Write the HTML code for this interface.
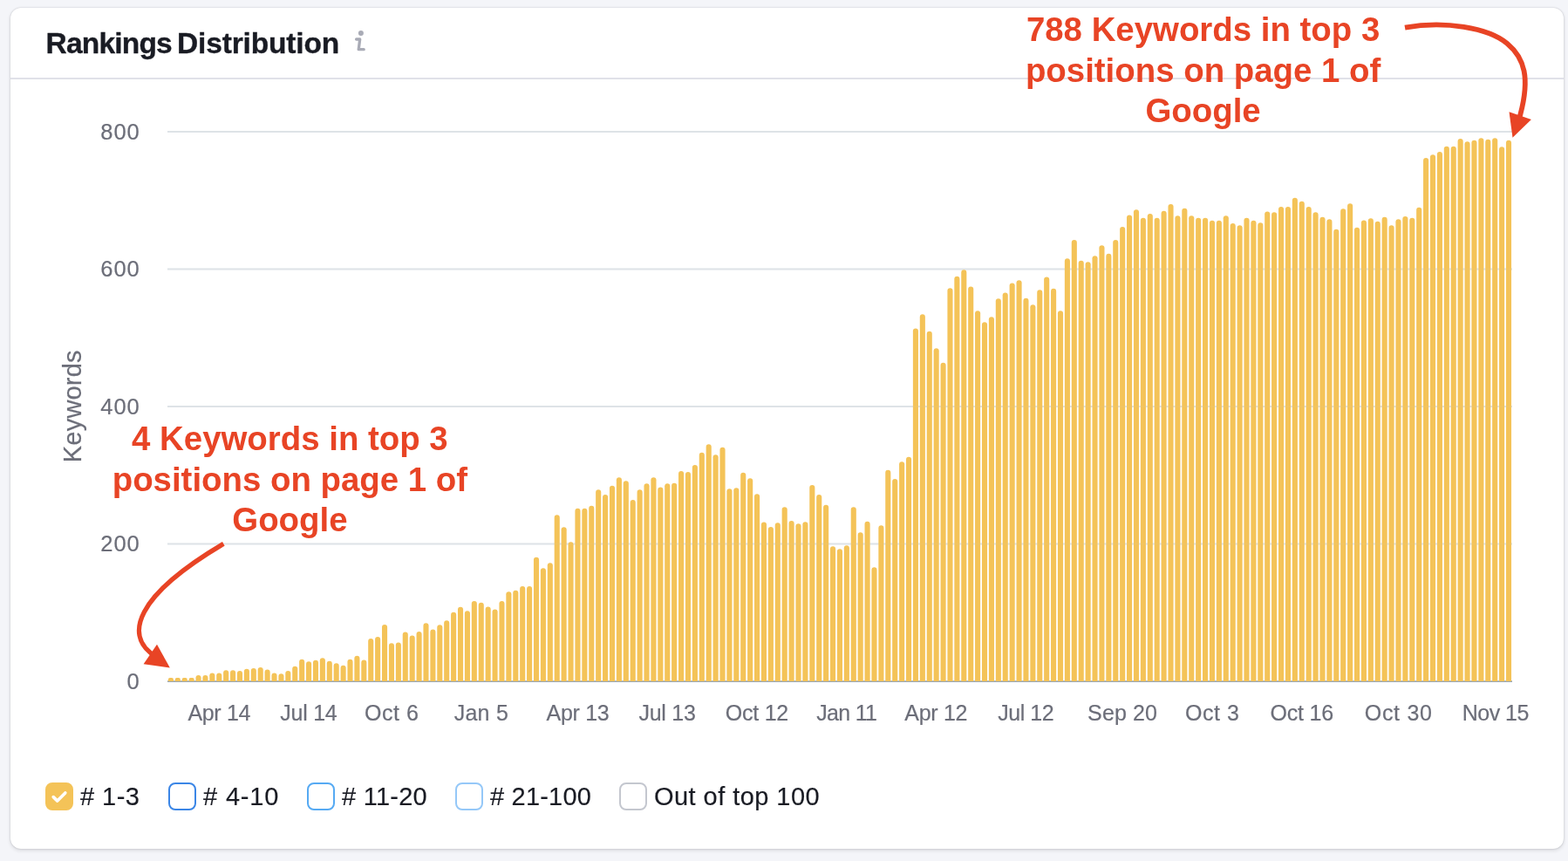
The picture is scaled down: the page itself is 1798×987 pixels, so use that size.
<!DOCTYPE html>
<html lang="en">
<head>
<meta charset="utf-8">
<title>Rankings Distribution</title>
<style>
  html, body { margin: 0; padding: 0; }
  body {
    width: 1798px; height: 987px; overflow: hidden; position: relative;
    background: #f4f5f9;
    font-family: "Liberation Sans", Arial, Helvetica, sans-serif;
    color: #191b23;
  }
  .card {
    position: absolute; left: 12px; top: 9px; width: 1781px; height: 964px;
    background: #fff; border-radius: 12px;
    box-shadow: 0 0 2px rgba(25,27,35,.22), 0 2px 4px rgba(25,27,35,.12);
  }
  .card-header {
    position: absolute; left: 0; top: 0; right: 0; height: 80px;
    border-bottom: 2px solid #e0e1e9;
  }
  .card-title {
    position: absolute; left: 40.5px; top: 20.5px; margin: 0;
    font-size: 33.5px; line-height: 40px; font-weight: 700; letter-spacing: -0.8px;
    white-space: nowrap; color: #191b23; -webkit-text-stroke: 0.35px #191b23;
  }
  .card-title span { letter-spacing: -0.15px; margin-left: -2.4px; }
  .info { position: absolute; left: 392px; top: 22px; width: 20px; height: 32px; }
  .chart { position: absolute; left: 0; top: 0; width: 1798px; height: 987px; }
  .chart text { font-family: "Liberation Sans", Arial, Helvetica, sans-serif; }
  .tick text { font-size: 25.5px; fill: #6c6e79; letter-spacing: 0.9px; stroke: #6c6e79; stroke-width: 0.2px; }
  .xtick text { font-size: 25px; fill: #6c6e79; stroke: #6c6e79; stroke-width: 0.2px; }
  .axis-title { font-size: 29px; fill: #6c6e79; letter-spacing: 0.2px; stroke: #6c6e79; stroke-width: 0.2px; }
  .legend {
    position: absolute; left: 0; top: 897px; width: 1798px; height: 32px; margin: 0; padding: 0;
    list-style: none; white-space: nowrap;
  }
  .legend li { position: absolute; top: 0; display: flex; align-items: center; font-size: 29px; line-height: 32px; letter-spacing: 0.45px; color: #191b23; -webkit-text-stroke: 0.15px #191b23; }
  .legend .lb { position: relative; top: 0px; }
  .cb {
    box-sizing: border-box; width: 32px; height: 32px; border-radius: 8px;
    border: 2px solid #c4c7cf; background: #fff; margin-right: 8px; flex: none; position: relative;
  }
  .cb.on { background: #f4c358; border-color: #f4c358; }
  .cb svg { position: absolute; left: -2px; top: -2px; width: 32px; height: 32px; }
  .note {
    position: absolute; margin: 0; text-align: center; white-space: nowrap;
    font-weight: 700; font-size: 38.4px; line-height: 46.5px; color: #e84425;
  }
</style>
</head>
<body>
<section class="card">
  <header class="card-header">
    <h2 class="card-title">Rankings <span>Distribution</span></h2>
    <svg class="info" viewBox="0 0 20 32" aria-label="info">
      <circle cx="9.9" cy="6.9" r="3" fill="#a9abb6"/>
      <path d="M4.6 14H8.7L7.2 25.7H13.2" fill="none" stroke="#a9abb6" stroke-width="3.3" stroke-linecap="round" stroke-linejoin="round"/>
    </svg>
  </header>
</section>

<svg class="chart" viewBox="0 0 1798 987">
  <g class="grid" stroke="#dee3e7" stroke-width="2">
<line x1="192" x2="1734" y1="151" y2="151"/>
<line x1="192" x2="1734" y1="308.5" y2="308.5"/>
<line x1="192" x2="1734" y1="466" y2="466"/>
<line x1="192" x2="1734" y1="623.5" y2="623.5"/>
  </g>
  <line class="axis" x1="192" x2="1734" y1="781.15" y2="781.15" stroke="#9ba8b4" stroke-width="1.7"/>
  <g class="bars" fill="#f4c358">
<path d="M192.85 781.0V779.0a2.00 2.00 0 0 1 2.00 -2.00h2.10a2.00 2.00 0 0 1 2.00 2.00V781.0z"/>
<path d="M200.76 781.0V779.0a2.00 2.00 0 0 1 2.00 -2.00h2.10a2.00 2.00 0 0 1 2.00 2.00V781.0z"/>
<path d="M208.67 781.0V779.0a2.00 2.00 0 0 1 2.00 -2.00h2.10a2.00 2.00 0 0 1 2.00 2.00V781.0z"/>
<path d="M216.58 781.0V779.0a2.00 2.00 0 0 1 2.00 -2.00h2.10a2.00 2.00 0 0 1 2.00 2.00V781.0z"/>
<path d="M224.48 781.0V777.0a3.05 3.05 0 0 1 6.1 0V781.0z"/>
<path d="M232.39 781.0V777.0a3.05 3.05 0 0 1 6.1 0V781.0z"/>
<path d="M240.30 781.0V774.6a3.05 3.05 0 0 1 6.1 0V781.0z"/>
<path d="M248.21 781.0V774.6a3.05 3.05 0 0 1 6.1 0V781.0z"/>
<path d="M256.12 781.0V771.3a3.05 3.05 0 0 1 6.1 0V781.0z"/>
<path d="M264.02 781.0V771.2a3.05 3.05 0 0 1 6.1 0V781.0z"/>
<path d="M271.93 781.0V772.0a3.05 3.05 0 0 1 6.1 0V781.0z"/>
<path d="M279.84 781.0V769.8a3.05 3.05 0 0 1 6.1 0V781.0z"/>
<path d="M287.75 781.0V769.0a3.05 3.05 0 0 1 6.1 0V781.0z"/>
<path d="M295.65 781.0V768.0a3.05 3.05 0 0 1 6.1 0V781.0z"/>
<path d="M303.56 781.0V770.5a3.05 3.05 0 0 1 6.1 0V781.0z"/>
<path d="M311.47 781.0V774.5a3.05 3.05 0 0 1 6.1 0V781.0z"/>
<path d="M319.38 781.0V775.4a3.05 3.05 0 0 1 6.1 0V781.0z"/>
<path d="M327.28 781.0V772.0a3.05 3.05 0 0 1 6.1 0V781.0z"/>
<path d="M335.19 781.0V766.8a3.05 3.05 0 0 1 6.1 0V781.0z"/>
<path d="M343.10 781.0V758.8a3.05 3.05 0 0 1 6.1 0V781.0z"/>
<path d="M351.01 781.0V761.2a3.05 3.05 0 0 1 6.1 0V781.0z"/>
<path d="M358.92 781.0V759.8a3.05 3.05 0 0 1 6.1 0V781.0z"/>
<path d="M366.82 781.0V757.2a3.05 3.05 0 0 1 6.1 0V781.0z"/>
<path d="M374.73 781.0V760.8a3.05 3.05 0 0 1 6.1 0V781.0z"/>
<path d="M382.64 781.0V763.3a3.05 3.05 0 0 1 6.1 0V781.0z"/>
<path d="M390.55 781.0V765.8a3.05 3.05 0 0 1 6.1 0V781.0z"/>
<path d="M398.45 781.0V758.8a3.05 3.05 0 0 1 6.1 0V781.0z"/>
<path d="M406.36 781.0V754.8a3.05 3.05 0 0 1 6.1 0V781.0z"/>
<path d="M414.27 781.0V759.5a3.05 3.05 0 0 1 6.1 0V781.0z"/>
<path d="M422.18 781.0V735.0a3.05 3.05 0 0 1 6.1 0V781.0z"/>
<path d="M430.08 781.0V733.0a3.05 3.05 0 0 1 6.1 0V781.0z"/>
<path d="M437.99 781.0V719.0a3.05 3.05 0 0 1 6.1 0V781.0z"/>
<path d="M445.90 781.0V740.4a3.05 3.05 0 0 1 6.1 0V781.0z"/>
<path d="M453.81 781.0V739.5a3.05 3.05 0 0 1 6.1 0V781.0z"/>
<path d="M461.72 781.0V727.5a3.05 3.05 0 0 1 6.1 0V781.0z"/>
<path d="M469.62 781.0V731.6a3.05 3.05 0 0 1 6.1 0V781.0z"/>
<path d="M477.53 781.0V727.0a3.05 3.05 0 0 1 6.1 0V781.0z"/>
<path d="M485.44 781.0V717.4a3.05 3.05 0 0 1 6.1 0V781.0z"/>
<path d="M493.35 781.0V724.6a3.05 3.05 0 0 1 6.1 0V781.0z"/>
<path d="M501.25 781.0V719.3a3.05 3.05 0 0 1 6.1 0V781.0z"/>
<path d="M509.16 781.0V714.4a3.05 3.05 0 0 1 6.1 0V781.0z"/>
<path d="M517.07 781.0V704.9a3.05 3.05 0 0 1 6.1 0V781.0z"/>
<path d="M524.98 781.0V698.8a3.05 3.05 0 0 1 6.1 0V781.0z"/>
<path d="M532.88 781.0V703.4a3.05 3.05 0 0 1 6.1 0V781.0z"/>
<path d="M540.79 781.0V692.0a3.05 3.05 0 0 1 6.1 0V781.0z"/>
<path d="M548.70 781.0V693.9a3.05 3.05 0 0 1 6.1 0V781.0z"/>
<path d="M556.61 781.0V698.5a3.05 3.05 0 0 1 6.1 0V781.0z"/>
<path d="M564.52 781.0V701.6a3.05 3.05 0 0 1 6.1 0V781.0z"/>
<path d="M572.42 781.0V692.0a3.05 3.05 0 0 1 6.1 0V781.0z"/>
<path d="M580.33 781.0V681.2a3.05 3.05 0 0 1 6.1 0V781.0z"/>
<path d="M588.24 781.0V679.8a3.05 3.05 0 0 1 6.1 0V781.0z"/>
<path d="M596.15 781.0V675.0a3.05 3.05 0 0 1 6.1 0V781.0z"/>
<path d="M604.05 781.0V675.0a3.05 3.05 0 0 1 6.1 0V781.0z"/>
<path d="M611.96 781.0V641.9a3.05 3.05 0 0 1 6.1 0V781.0z"/>
<path d="M619.87 781.0V654.3a3.05 3.05 0 0 1 6.1 0V781.0z"/>
<path d="M627.78 781.0V648.2a3.05 3.05 0 0 1 6.1 0V781.0z"/>
<path d="M635.68 781.0V593.3a3.05 3.05 0 0 1 6.1 0V781.0z"/>
<path d="M643.59 781.0V607.2a3.05 3.05 0 0 1 6.1 0V781.0z"/>
<path d="M651.50 781.0V624.4a3.05 3.05 0 0 1 6.1 0V781.0z"/>
<path d="M659.41 781.0V585.8a3.05 3.05 0 0 1 6.1 0V781.0z"/>
<path d="M667.32 781.0V585.8a3.05 3.05 0 0 1 6.1 0V781.0z"/>
<path d="M675.22 781.0V582.9a3.05 3.05 0 0 1 6.1 0V781.0z"/>
<path d="M683.13 781.0V564.4a3.05 3.05 0 0 1 6.1 0V781.0z"/>
<path d="M691.04 781.0V570.1a3.05 3.05 0 0 1 6.1 0V781.0z"/>
<path d="M698.95 781.0V559.8a3.05 3.05 0 0 1 6.1 0V781.0z"/>
<path d="M706.85 781.0V550.2a3.05 3.05 0 0 1 6.1 0V781.0z"/>
<path d="M714.76 781.0V554.2a3.05 3.05 0 0 1 6.1 0V781.0z"/>
<path d="M722.67 781.0V576.1a3.05 3.05 0 0 1 6.1 0V781.0z"/>
<path d="M730.58 781.0V564.4a3.05 3.05 0 0 1 6.1 0V781.0z"/>
<path d="M738.48 781.0V557.3a3.05 3.05 0 0 1 6.1 0V781.0z"/>
<path d="M746.39 781.0V550.2a3.05 3.05 0 0 1 6.1 0V781.0z"/>
<path d="M754.30 781.0V561.5a3.05 3.05 0 0 1 6.1 0V781.0z"/>
<path d="M762.21 781.0V557.3a3.05 3.05 0 0 1 6.1 0V781.0z"/>
<path d="M770.12 781.0V556.8a3.05 3.05 0 0 1 6.1 0V781.0z"/>
<path d="M778.02 781.0V543.1a3.05 3.05 0 0 1 6.1 0V781.0z"/>
<path d="M785.93 781.0V544.0a3.05 3.05 0 0 1 6.1 0V781.0z"/>
<path d="M793.84 781.0V536.1a3.05 3.05 0 0 1 6.1 0V781.0z"/>
<path d="M801.75 781.0V521.9a3.05 3.05 0 0 1 6.1 0V781.0z"/>
<path d="M809.65 781.0V512.2a3.05 3.05 0 0 1 6.1 0V781.0z"/>
<path d="M817.56 781.0V524.3a3.05 3.05 0 0 1 6.1 0V781.0z"/>
<path d="M825.47 781.0V515.8a3.05 3.05 0 0 1 6.1 0V781.0z"/>
<path d="M833.38 781.0V563.2a3.05 3.05 0 0 1 6.1 0V781.0z"/>
<path d="M841.28 781.0V562.2a3.05 3.05 0 0 1 6.1 0V781.0z"/>
<path d="M849.19 781.0V544.8a3.05 3.05 0 0 1 6.1 0V781.0z"/>
<path d="M857.10 781.0V551.3a3.05 3.05 0 0 1 6.1 0V781.0z"/>
<path d="M865.01 781.0V569.2a3.05 3.05 0 0 1 6.1 0V781.0z"/>
<path d="M872.92 781.0V601.5a3.05 3.05 0 0 1 6.1 0V781.0z"/>
<path d="M880.82 781.0V607.1a3.05 3.05 0 0 1 6.1 0V781.0z"/>
<path d="M888.73 781.0V602.2a3.05 3.05 0 0 1 6.1 0V781.0z"/>
<path d="M896.64 781.0V584.2a3.05 3.05 0 0 1 6.1 0V781.0z"/>
<path d="M904.55 781.0V600.1a3.05 3.05 0 0 1 6.1 0V781.0z"/>
<path d="M912.45 781.0V603.3a3.05 3.05 0 0 1 6.1 0V781.0z"/>
<path d="M920.36 781.0V601.3a3.05 3.05 0 0 1 6.1 0V781.0z"/>
<path d="M928.27 781.0V559.0a3.05 3.05 0 0 1 6.1 0V781.0z"/>
<path d="M936.18 781.0V570.0a3.05 3.05 0 0 1 6.1 0V781.0z"/>
<path d="M944.08 781.0V581.8a3.05 3.05 0 0 1 6.1 0V781.0z"/>
<path d="M951.99 781.0V629.2a3.05 3.05 0 0 1 6.1 0V781.0z"/>
<path d="M959.90 781.0V632.3a3.05 3.05 0 0 1 6.1 0V781.0z"/>
<path d="M967.81 781.0V628.2a3.05 3.05 0 0 1 6.1 0V781.0z"/>
<path d="M975.72 781.0V584.2a3.05 3.05 0 0 1 6.1 0V781.0z"/>
<path d="M983.62 781.0V613.3a3.05 3.05 0 0 1 6.1 0V781.0z"/>
<path d="M991.53 781.0V600.8a3.05 3.05 0 0 1 6.1 0V781.0z"/>
<path d="M999.44 781.0V653.4a3.05 3.05 0 0 1 6.1 0V781.0z"/>
<path d="M1007.35 781.0V605.4a3.05 3.05 0 0 1 6.1 0V781.0z"/>
<path d="M1015.25 781.0V541.8a3.05 3.05 0 0 1 6.1 0V781.0z"/>
<path d="M1023.16 781.0V552.1a3.05 3.05 0 0 1 6.1 0V781.0z"/>
<path d="M1031.07 781.0V532.2a3.05 3.05 0 0 1 6.1 0V781.0z"/>
<path d="M1038.98 781.0V526.9a3.05 3.05 0 0 1 6.1 0V781.0z"/>
<path d="M1046.88 781.0V379.6a3.05 3.05 0 0 1 6.1 0V781.0z"/>
<path d="M1054.79 781.0V363.4a3.05 3.05 0 0 1 6.1 0V781.0z"/>
<path d="M1062.70 781.0V382.9a3.05 3.05 0 0 1 6.1 0V781.0z"/>
<path d="M1070.61 781.0V402.2a3.05 3.05 0 0 1 6.1 0V781.0z"/>
<path d="M1078.52 781.0V418.8a3.05 3.05 0 0 1 6.1 0V781.0z"/>
<path d="M1086.42 781.0V333.2a3.05 3.05 0 0 1 6.1 0V781.0z"/>
<path d="M1094.33 781.0V319.9a3.05 3.05 0 0 1 6.1 0V781.0z"/>
<path d="M1102.24 781.0V312.4a3.05 3.05 0 0 1 6.1 0V781.0z"/>
<path d="M1110.15 781.0V331.6a3.05 3.05 0 0 1 6.1 0V781.0z"/>
<path d="M1118.05 781.0V359.2a3.05 3.05 0 0 1 6.1 0V781.0z"/>
<path d="M1125.96 781.0V372.4a3.05 3.05 0 0 1 6.1 0V781.0z"/>
<path d="M1133.87 781.0V366.2a3.05 3.05 0 0 1 6.1 0V781.0z"/>
<path d="M1141.78 781.0V345.4a3.05 3.05 0 0 1 6.1 0V781.0z"/>
<path d="M1149.68 781.0V338.6a3.05 3.05 0 0 1 6.1 0V781.0z"/>
<path d="M1157.59 781.0V327.6a3.05 3.05 0 0 1 6.1 0V781.0z"/>
<path d="M1165.50 781.0V324.2a3.05 3.05 0 0 1 6.1 0V781.0z"/>
<path d="M1173.41 781.0V344.9a3.05 3.05 0 0 1 6.1 0V781.0z"/>
<path d="M1181.32 781.0V352.2a3.05 3.05 0 0 1 6.1 0V781.0z"/>
<path d="M1189.22 781.0V335.4a3.05 3.05 0 0 1 6.1 0V781.0z"/>
<path d="M1197.13 781.0V320.6a3.05 3.05 0 0 1 6.1 0V781.0z"/>
<path d="M1205.04 781.0V333.9a3.05 3.05 0 0 1 6.1 0V781.0z"/>
<path d="M1212.95 781.0V359.2a3.05 3.05 0 0 1 6.1 0V781.0z"/>
<path d="M1220.85 781.0V299.4a3.05 3.05 0 0 1 6.1 0V781.0z"/>
<path d="M1228.76 781.0V278.1a3.05 3.05 0 0 1 6.1 0V781.0z"/>
<path d="M1236.67 781.0V301.7a3.05 3.05 0 0 1 6.1 0V781.0z"/>
<path d="M1244.58 781.0V303.2a3.05 3.05 0 0 1 6.1 0V781.0z"/>
<path d="M1252.48 781.0V296.2a3.05 3.05 0 0 1 6.1 0V781.0z"/>
<path d="M1260.39 781.0V284.2a3.05 3.05 0 0 1 6.1 0V781.0z"/>
<path d="M1268.30 781.0V293.9a3.05 3.05 0 0 1 6.1 0V781.0z"/>
<path d="M1276.21 781.0V278.1a3.05 3.05 0 0 1 6.1 0V781.0z"/>
<path d="M1284.12 781.0V263.1a3.05 3.05 0 0 1 6.1 0V781.0z"/>
<path d="M1292.02 781.0V249.6a3.05 3.05 0 0 1 6.1 0V781.0z"/>
<path d="M1299.93 781.0V243.2a3.05 3.05 0 0 1 6.1 0V781.0z"/>
<path d="M1307.84 781.0V252.7a3.05 3.05 0 0 1 6.1 0V781.0z"/>
<path d="M1315.75 781.0V248.1a3.05 3.05 0 0 1 6.1 0V781.0z"/>
<path d="M1323.65 781.0V252.7a3.05 3.05 0 0 1 6.1 0V781.0z"/>
<path d="M1331.56 781.0V244.7a3.05 3.05 0 0 1 6.1 0V781.0z"/>
<path d="M1339.47 781.0V237.0a3.05 3.05 0 0 1 6.1 0V781.0z"/>
<path d="M1347.38 781.0V250.2a3.05 3.05 0 0 1 6.1 0V781.0z"/>
<path d="M1355.28 781.0V241.7a3.05 3.05 0 0 1 6.1 0V781.0z"/>
<path d="M1363.19 781.0V250.2a3.05 3.05 0 0 1 6.1 0V781.0z"/>
<path d="M1371.10 781.0V252.7a3.05 3.05 0 0 1 6.1 0V781.0z"/>
<path d="M1379.01 781.0V252.7a3.05 3.05 0 0 1 6.1 0V781.0z"/>
<path d="M1386.92 781.0V255.7a3.05 3.05 0 0 1 6.1 0V781.0z"/>
<path d="M1394.82 781.0V255.7a3.05 3.05 0 0 1 6.1 0V781.0z"/>
<path d="M1402.73 781.0V250.2a3.05 3.05 0 0 1 6.1 0V781.0z"/>
<path d="M1410.64 781.0V259.1a3.05 3.05 0 0 1 6.1 0V781.0z"/>
<path d="M1418.55 781.0V261.2a3.05 3.05 0 0 1 6.1 0V781.0z"/>
<path d="M1426.45 781.0V252.7a3.05 3.05 0 0 1 6.1 0V781.0z"/>
<path d="M1434.36 781.0V255.7a3.05 3.05 0 0 1 6.1 0V781.0z"/>
<path d="M1442.27 781.0V258.2a3.05 3.05 0 0 1 6.1 0V781.0z"/>
<path d="M1450.18 781.0V245.6a3.05 3.05 0 0 1 6.1 0V781.0z"/>
<path d="M1458.08 781.0V246.4a3.05 3.05 0 0 1 6.1 0V781.0z"/>
<path d="M1465.99 781.0V240.1a3.05 3.05 0 0 1 6.1 0V781.0z"/>
<path d="M1473.90 781.0V240.1a3.05 3.05 0 0 1 6.1 0V781.0z"/>
<path d="M1481.81 781.0V229.7a3.05 3.05 0 0 1 6.1 0V781.0z"/>
<path d="M1489.72 781.0V233.8a3.05 3.05 0 0 1 6.1 0V781.0z"/>
<path d="M1497.62 781.0V240.1a3.05 3.05 0 0 1 6.1 0V781.0z"/>
<path d="M1505.53 781.0V246.4a3.05 3.05 0 0 1 6.1 0V781.0z"/>
<path d="M1513.44 781.0V251.9a3.05 3.05 0 0 1 6.1 0V781.0z"/>
<path d="M1521.35 781.0V254.2a3.05 3.05 0 0 1 6.1 0V781.0z"/>
<path d="M1529.25 781.0V265.9a3.05 3.05 0 0 1 6.1 0V781.0z"/>
<path d="M1537.16 781.0V242.4a3.05 3.05 0 0 1 6.1 0V781.0z"/>
<path d="M1545.07 781.0V236.2a3.05 3.05 0 0 1 6.1 0V781.0z"/>
<path d="M1552.98 781.0V263.8a3.05 3.05 0 0 1 6.1 0V781.0z"/>
<path d="M1560.88 781.0V255.6a3.05 3.05 0 0 1 6.1 0V781.0z"/>
<path d="M1568.79 781.0V253.4a3.05 3.05 0 0 1 6.1 0V781.0z"/>
<path d="M1576.70 781.0V256.8a3.05 3.05 0 0 1 6.1 0V781.0z"/>
<path d="M1584.61 781.0V251.9a3.05 3.05 0 0 1 6.1 0V781.0z"/>
<path d="M1592.52 781.0V261.2a3.05 3.05 0 0 1 6.1 0V781.0z"/>
<path d="M1600.42 781.0V254.2a3.05 3.05 0 0 1 6.1 0V781.0z"/>
<path d="M1608.33 781.0V251.1a3.05 3.05 0 0 1 6.1 0V781.0z"/>
<path d="M1616.24 781.0V252.8a3.05 3.05 0 0 1 6.1 0V781.0z"/>
<path d="M1624.15 781.0V240.9a3.05 3.05 0 0 1 6.1 0V781.0z"/>
<path d="M1632.05 781.0V184.1a3.05 3.05 0 0 1 6.1 0V781.0z"/>
<path d="M1639.96 781.0V180.2a3.05 3.05 0 0 1 6.1 0V781.0z"/>
<path d="M1647.87 781.0V177.1a3.05 3.05 0 0 1 6.1 0V781.0z"/>
<path d="M1655.78 781.0V170.7a3.05 3.05 0 0 1 6.1 0V781.0z"/>
<path d="M1663.68 781.0V170.7a3.05 3.05 0 0 1 6.1 0V781.0z"/>
<path d="M1671.59 781.0V162.0a3.05 3.05 0 0 1 6.1 0V781.0z"/>
<path d="M1679.50 781.0V165.2a3.05 3.05 0 0 1 6.1 0V781.0z"/>
<path d="M1687.41 781.0V163.7a3.05 3.05 0 0 1 6.1 0V781.0z"/>
<path d="M1695.32 781.0V161.2a3.05 3.05 0 0 1 6.1 0V781.0z"/>
<path d="M1703.22 781.0V162.9a3.05 3.05 0 0 1 6.1 0V781.0z"/>
<path d="M1711.13 781.0V161.2a3.05 3.05 0 0 1 6.1 0V781.0z"/>
<path d="M1719.04 781.0V171.4a3.05 3.05 0 0 1 6.1 0V781.0z"/>
<path d="M1726.95 781.0V163.7a3.05 3.05 0 0 1 6.1 0V781.0z"/>
  </g>
  <g stroke="#dfe3e8" stroke-width="2" opacity="0.05">
<line x1="192" x2="1734" y1="151" y2="151"/>
<line x1="192" x2="1734" y1="308.5" y2="308.5"/>
<line x1="192" x2="1734" y1="466" y2="466"/>
<line x1="192" x2="1734" y1="623.5" y2="623.5"/>
  </g>
  <g class="tick">
<text x="160.6" y="160" text-anchor="end">800</text>
<text x="160.6" y="316.8" text-anchor="end">600</text>
<text x="160.6" y="474.6" text-anchor="end">400</text>
<text x="160.6" y="631.7" text-anchor="end">200</text>
<text x="160.6" y="790" text-anchor="end">0</text>
  </g>
  <g class="xtick">
<text x="215.4" y="826.2" textLength="72.1" lengthAdjust="spacing">Apr 14</text>
<text x="321.3" y="826.2" textLength="65.4" lengthAdjust="spacing">Jul 14</text>
<text x="418.1" y="826.2" textLength="61.7" lengthAdjust="spacing">Oct 6</text>
<text x="520.8" y="826.2" textLength="62.0" lengthAdjust="spacing">Jan 5</text>
<text x="626.6" y="826.2" textLength="72.1" lengthAdjust="spacing">Apr 13</text>
<text x="732.5" y="826.2" textLength="65.3" lengthAdjust="spacing">Jul 13</text>
<text x="831.8" y="826.2" textLength="72.4" lengthAdjust="spacing">Oct 12</text>
<text x="936.2" y="826.2" textLength="69.7" lengthAdjust="spacing">Jan 11</text>
<text x="1037.3" y="826.2" textLength="72.1" lengthAdjust="spacing">Apr 12</text>
<text x="1144.2" y="826.2" textLength="64.4" lengthAdjust="spacing">Jul 12</text>
<text x="1247.1" y="826.2" textLength="79.8" lengthAdjust="spacing">Sep 20</text>
<text x="1359.0" y="826.2" textLength="62.0" lengthAdjust="spacing">Oct 3</text>
<text x="1456.5" y="826.2" textLength="72.7" lengthAdjust="spacing">Oct 16</text>
<text x="1564.8" y="826.2" textLength="77.1" lengthAdjust="spacing">Oct 30</text>
<text x="1676.7" y="826.2" textLength="76.7" lengthAdjust="spacing">Nov 15</text>
  </g>
  <text class="axis-title" transform="translate(92.6 465.7) rotate(-90)" text-anchor="middle">Keywords</text>
</svg>

<ul class="legend">
  <li style="left:52px"><span class="cb on"><svg viewBox="0 0 32 32"><path d="M9.2 16.6l4.6 4.5 9-9.2" fill="none" stroke="#fff" stroke-width="3.6" stroke-linecap="round" stroke-linejoin="round"/></svg></span><span class="lb"># 1-3</span></li>
  <li style="left:193px"><span class="cb" style="border-color:#3b86e6"></span><span class="lb" style="letter-spacing:0.85px"># 4-10</span></li>
  <li style="left:352px"><span class="cb" style="border-color:#56aaf3"></span><span class="lb" style="letter-spacing:0.25px"># 11-20</span></li>
  <li style="left:522px"><span class="cb" style="border-color:#95c8f8"></span><span class="lb" style="letter-spacing:0.2px"># 21-100</span></li>
  <li style="left:710px"><span class="cb" style="border-color:#c4c7cf"></span><span class="lb">Out of top 100</span></li>
</ul>

<p class="note" style="left:1079.6px; width:600px; top:11px;">788 Keywords in top 3<br>positions on page 1 of<br>Google</p>
<p class="note" style="left:32.4px; width:600px; top:480px;">4 Keywords in top 3<br>positions on page 1 of<br>Google</p>

<svg class="chart" viewBox="0 0 1798 987" style="pointer-events:none">
  <g fill="none" stroke="#e84425">
    <path stroke-width="5.8" d="M1611 31.6C1656.6 23.4 1706.4 31.7 1728.1 49.7C1748.8 66.9 1754.2 89.9 1743.5 130.8L1742.2 135.6"/>
    <path stroke-width="5.3" d="M256.3 623.4C150.7 685.9 147.7 727.5 171.9 747.8L176.5 751.7"/>
  </g>
  <g fill="#e84425">
    <path d="M1730.5 128.3L1755.9 136.9L1734.5 157.8z"/>
    <path d="M194.8 765.4L180 738.8L164.6 761.2z"/>
  </g>
</svg>
</body>
</html>
